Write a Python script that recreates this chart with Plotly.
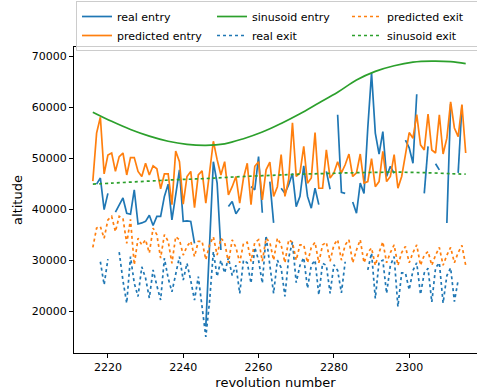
import plotly.graph_objects as go

N = None
revolution = list(range(2216, 2316))

real_entry = [N, 44900, 46100, 39900, 43100, N, 39400, 40900, 42200, 39200,
              39000, 43800, 37100, 37300, 37600, 38800, 36800, 38600, 38600, 42500,
              44900, 37900, 42800, 47700, 37600, 37700, 37600, 33300, N, N,
              17000, 33000, 49300, 45100, 32000, N, 40500, 41500, 39100, 40200,
              N, N, 44400, 43800, 50300, 39300, N, 45400, 37300, N,
              44100, 43100, 44800, 47000, 40500, 42500, 48500, 42500, 40200, 44100,
              40900, N, 47400, 43900, N, 58500, 43300, 43100, N, 41400,
              39200, 45100, 43100, 55900, 66700, 54900, 50800, 55200, 46400, 48400,
              47000, N, N, 53500, 52000, 49000, 62500, N, 43100, 52300,
              N, 48900, 47700, N, 37300, 60600, N, 47100, 60300, N]

predicted_entry = [45500, 54900, 58000, 46900, 50600, 51000, 47400, 50300, 51000, 46700,
                   50100, 50100, 47400, 46400, 49000, 46700, 48500, 47900, 44000, 46900,
                   46900, 40900, 51400, 49300, 41000, 46400, 47400, 40300, 46700, 47500,
                   41200, 47700, 53300, 49700, 46700, 49300, 42800, 44400, 46400, 41200,
                   46100, 49000, 40900, 48400, 49300, 41800, 47700, 49200, 42500, 44400,
                   50700, 42500, 45800, 56900, 46400, 47100, 52300, 45100, 46100, 55000,
                   44100, 44100, 51600, 46100, 47100, 49300, 47100, 48700, 50800, 46400,
                   47100, 50800, 45100, 45400, 49900, 44400, 45400, 51300, 45400, 46400,
                   50700, 44100, 46400, 50700, 55000, 53900, 58500, 52600, 51600, 58600,
                   51600, 51000, 58500, 50800, 53900, 61000, 55900, 54200, 60500, 51000]

sinusoid_rev = [2216, 2221, 2226, 2231, 2236, 2241, 2246, 2251, 2256, 2261, 2266,
                2271, 2276, 2281, 2286, 2291, 2296, 2301, 2306, 2311, 2315]
sinusoid_entry = [59000, 57200, 55600, 54300, 53300, 52700, 52500, 52800, 53800, 55100, 56800,
                  58700, 60800, 62900, 65300, 67000, 68100, 68800, 69000, 68900, 68500]
sinusoid_exit = [44900, 45100, 45300, 45500, 45700, 45850, 46000, 46200, 46400, 46550, 46700,
                 46850, 46950, 47050, 47150, 47200, 47250, 47200, 47100, 46950, 46850]

real_exit = [N, N, 29700, 25200, 30200, N, N, 31600, 26000, 21600,
             30700, 25500, 22900, 28700, 26500, 22600, 28100, 25000, 22200, 30400,
             26500, 23800, 27500, 30700, 26100, 29400, 26000, 22200, 26800, 21000,
             15000, 22000, 31700, 26800, 30000, 27500, 30500, 27000, 29000, 23500,
             30000, 29500, 25500, 32500, 30000, 25500, 34800, 29000, 23500, 30000,
             28500, 22900, 30500, 33600, 25600, 29000, 30500, 24500, 29000, 30000,
             23200, 29400, 29000, 23500, 29100, 28000, 23600, 29700, N, N,
             26800, N, N, 28100, 31400, 22500, 29700, 30000, 23500, 29000,
             30700, 20900, 27500, 27500, 24200, 28000, 29500, 23300, 27500, 28400,
             21800, 28500, 29500, 21600, 27000, 28500, 21900, 26100, N, N]

predicted_exit = [32500, 36300, 36600, 34300, 37900, 38600, 35600, 38600, 38200, 33300,
                  38000, 29100, 34300, 33000, 34000, 31400, 36300, 35000, 30400, 35000,
                  33700, 29400, 34600, 34000, 31000, 32700, 33700, 30700, 33700, 33700,
                  30100, 33000, 34600, 31000, 34300, 33500, 29500, 34000, 32500, 29500,
                  33300, 33500, 29800, 33500, 34000, 29800, 34300, 33500, 30000, 34300,
                  33000, 29500, 34000, 33500, 30000, 33000, 33000, 29500, 32500, 33500,
                  29500, 33000, 33500, 29800, 33000, 34000, 30000, 33000, 34000, 29500,
                  32000, 34000, 29500, 31500, 32400, 29000, 31500, 33600, 29500, 31500,
                  33000, 29000, 31500, 32700, 29500, 31500, 33000, 29000, 31000, 31700,
                  29000, 31000, 32500, 29000, 31000, 32500, 29500, 31500, 32900, 29000]

BLUE = "#1f77b4"
ORANGE = "#ff7f0e"
GREEN = "#2ca02c"
LW = 1.7

fig = go.Figure()
fig.add_trace(go.Scatter(x=revolution, y=real_entry, mode="lines", name="real entry",
                         line=dict(color=BLUE, width=LW), legendrank=1))
fig.add_trace(go.Scatter(x=revolution, y=predicted_entry, mode="lines", name="predicted entry",
                         line=dict(color=ORANGE, width=LW), legendrank=4))
fig.add_trace(go.Scatter(x=sinusoid_rev, y=sinusoid_entry, mode="lines", name="sinusoid entry",
                         line=dict(color=GREEN, width=LW, shape="spline"), legendrank=2))
fig.add_trace(go.Scatter(x=revolution, y=real_exit, mode="lines", name="real exit",
                         line=dict(color=BLUE, width=LW, dash="dot"), legendrank=5))
fig.add_trace(go.Scatter(x=revolution, y=predicted_exit, mode="lines", name="predicted exit",
                         line=dict(color=ORANGE, width=LW, dash="dot"), legendrank=3))
fig.add_trace(go.Scatter(x=sinusoid_rev, y=sinusoid_exit, mode="lines", name="sinusoid exit",
                         line=dict(color=GREEN, width=LW, dash="dot", shape="spline"), legendrank=6))

fig.update_layout(
    width=477, height=390,
    margin=dict(l=74, r=0, t=47, b=37, autoexpand=False),
    paper_bgcolor="white", plot_bgcolor="white",
    font=dict(family="DejaVu Sans", size=11, color="black"),
    showlegend=True,
    legend=dict(orientation="h", xref="container", yref="container",
                x=76/477, y=1 - 1/390, xanchor="left", yanchor="top",
                bordercolor="#cccccc", borderwidth=1, bgcolor="rgba(255,255,255,0.8)",
                entrywidth=90, font=dict(size=11), tracegroupgap=0, itemwidth=30),
    xaxis=dict(range=[2211, 2318], tickvals=[2220, 2240, 2260, 2280, 2300],
               showgrid=False, zeroline=False, showline=True, linecolor="black", linewidth=1,
               mirror=True, ticks="outside", ticklen=4, tickcolor="black",
               title=dict(text="revolution number", standoff=4)),
    yaxis=dict(range=[11824, 71765], tickvals=[20000, 30000, 40000, 50000, 60000, 70000],
               tickformat="d", showgrid=False, zeroline=False, showline=True, linecolor="black",
               linewidth=1, ticks="outside", ticklen=4, tickcolor="black",
               title=dict(text="altitude", standoff=6)),
)

fig.write_html("out.html", config={"displayModeBar": False},
               post_script="document.body.style.margin='0';")
